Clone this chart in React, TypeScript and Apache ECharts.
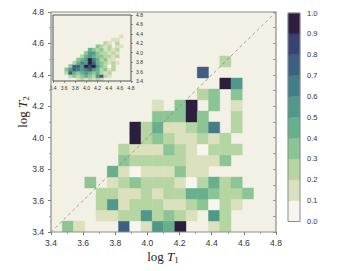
import React, { useEffect, useRef } from 'react';
import * as echarts from 'echarts';

const _ = null;
const AXIS_MIN = 3.4;
const AXIS_MAX = 4.8;
const TICK_STEP = 0.2;
const BIN = 0.07;

const levelEdges = [0, 0.1, 0.2, 0.3, 0.4, 0.5, 0.6, 0.7, 0.8, 0.9, 1.0];
const levelColors = [
  '#f7f5ee', '#dbe0bd', '#b5d6a2', '#8cc595', '#68b08d',
  '#509889', '#437d88', '#3d5f84', '#3a4273', '#2d1e3e',
];

// main 2D histogram, rows from bottom (log T2 = 3.40..) ; columns log T1 bins of 0.07 from 3.40
const mainRows = [
  [_, .35, .15, _, _, _, .75, .05, .15, .55, .45, .95, _, _, .15, .25, _, _, _, _],
  [_, _, _, _, .15, .15, .25, .25, .55, .25, .35, .25, .15, _, .55, .25, _, _, _, _],
  [_, _, _, _, .25, .55, .15, .25, .25, .25, .15, .15, .25, .35, .05, .25, .15, _, _, _],
  [_, _, _, _, .25, .25, .15, .15, .25, .15, .25, .25, .45, .45, .35, .25, .25, .35, _, _],
  [_, _, _, .35, _, .15, .25, .35, .25, .25, .25, .15, .05, .25, .45, .25, .35, _, _, _],
  [_, _, _, _, _, .45, .15, .05, .15, .15, .15, .35, .15, .15, _, _, _, _, _, _],
  [_, _, _, _, _, _, .35, .25, .25, .25, .25, .25, .15, .15, .15, .35, _, _, _, _],
  [_, _, _, _, _, _, .25, .15, .15, .15, .35, .25, .15, .05, .25, .25, .25, _, _, _],
  [_, _, _, _, _, _, _, .95, .25, .35, .25, .15, .15, .25, .15, .25, _, _, _, _],
  [_, _, _, _, _, _, _, .95, .25, .45, .15, .15, .25, .35, .65, _, .25, _, _, _],
  [_, _, _, _, _, _, _, _, _, .35, .35, .35, .95, .35, _, _, .25, _, _, _],
  [_, _, _, _, _, _, _, _, _, .15, _, .35, .95, _, .35, _, .15, _, _, _],
  [_, _, _, _, _, _, _, _, _, _, _, _, _, .25, .35, _, .35, _, _, _],
  [_, _, _, _, _, _, _, _, _, _, _, _, _, _, _, .95, .55, _, _, _],
  [_, _, _, _, _, _, _, _, _, _, _, _, _, .75, _, _, _, _, _, _],
  [_, _, _, _, _, _, _, _, _, _, _, _, _, _, _, .25, _, _, _, _],
];

// inset histogram
const insetRows = [
  [_, _, _, _, _, _, .15, .25, .15, .25, .15, .25, .15, _, _, _, _, _, _, _],
  [_, _, _, _, .25, .35, .25, .35, .45, .35, .25, .55, .75, .25, .15, _, _, _, _, _],
  [_, _, _, .25, .75, .45, .35, .45, .55, .45, .35, .45, .25, .15, .25, _, _, _, _, _],
  [_, _, _, .35, .55, .75, .65, .55, .65, .75, .55, .45, .25, .35, .15, .25, _, _, _, _],
  [_, _, _, _, .35, .75, .75, .55, .95, .85, .95, .55, .35, .25, .05, .25, _, _, _, _],
  [_, _, _, _, _, .25, .45, .65, .55, .95, .75, .45, .35, .25, .15, .25, .15, _, _, _],
  [_, _, _, _, _, _, .35, .45, .55, .95, .65, .45, .25, .35, .15, .15, _, _, _, _],
  [_, _, _, _, _, _, _, .25, .45, .55, .45, .35, .35, .25, .25, .15, .25, _, _, _],
  [_, _, _, _, _, _, _, _, .35, .55, .55, .35, .25, .25, .15, .25, .15, _, _, _],
  [_, _, _, _, _, _, _, _, _, .45, .35, .25, .35, .15, .25, .15, .25, _, _, _],
  [_, _, _, _, _, _, _, _, _, _, _, .35, .25, .15, .25, _, .15, .15, _, _],
  [_, _, _, _, _, _, _, _, _, _, _, _, _, .25, .15, _, .25, _, _, _],
  [_, _, _, _, _, _, _, _, _, _, _, _, _, _, _, .15, .15, _, _, _],
  [_, _, _, _, _, _, _, _, _, _, _, _, _, _, _, _, _, .15, _, _],
];

const diagonal = [[AXIS_MIN, AXIS_MIN], [AXIS_MAX, AXIS_MAX]];

function toCells(rows: (number | null)[][]) {
  const out: number[][] = [];
  rows.forEach((row, j) =>
    row.forEach((v, i) => {
      if (v !== null) out.push([AXIS_MIN + i * BIN, AXIS_MIN + j * BIN, v]);
    })
  );
  return out;
}

const MAIN = { left: 51, top: 12, width: 225, height: 220 };
const INSET = { left: 53, top: 15, width: 78, height: 66 };
const CBAR = { left: 288, top: 13, width: 12, height: 208.5 };
const BG = '#f3f0e5';
const SANS = 'Liberation Sans, Arial, sans-serif';
const SERIF = 'Liberation Serif, DejaVu Serif, serif';

const fmt = (v: number) => v.toFixed(1);

export default function App() {
  const ref = useRef<HTMLDivElement>(null);
  useEffect(() => {
    if (!ref.current) return;
    const chart = echarts.init(ref.current, undefined, { renderer: 'svg' });

    const cellRender = (params: any, api: any) => {
      const x0 = api.value(0);
      const y0 = api.value(1);
      const a = api.coord([x0, y0]);
      const b = api.coord([x0 + BIN, y0 + BIN]);
      const c = api.visual('color');
      return {
        type: 'rect',
        shape: { x: a[0], y: b[1], width: b[0] - a[0], height: a[1] - b[1] },
        style: { fill: c, stroke: c, lineWidth: 0.4 },
      };
    };
    const barRender = (params: any, api: any) => {
      const a = api.coord([0, api.value(1)]);
      const b = api.coord([1, api.value(3)]);
      const c = api.visual('color');
      return {
        type: 'rect',
        shape: { x: a[0], y: b[1], width: b[0] - a[0], height: a[1] - b[1] },
        style: { fill: c, stroke: c, lineWidth: 0.4 },
      };
    };

    const cbarData = levelColors.map((_c, k) => [0, levelEdges[k], (levelEdges[k] + levelEdges[k + 1]) / 2, levelEdges[k + 1]]);
    const pieces = levelColors.map((c, k) =>
      k === levelColors.length - 1
        ? { gte: levelEdges[k], lte: levelEdges[k + 1], color: c }
        : { gte: levelEdges[k], lt: levelEdges[k + 1], color: c }
    );

    const mainTick = { show: true, inside: false, length: 3, lineStyle: { color: '#555', width: 0.8 } };
    const mainMinor = { show: true, splitNumber: 2, length: 2, lineStyle: { color: '#777', width: 0.6 } };
    const mainLabel = { fontSize: 8.5, fontFamily: SANS, color: '#333', formatter: fmt, showMinLabel: true, showMaxLabel: true };

    chart.setOption({
      animation: false,
      grid: [
        { ...MAIN, show: true, backgroundColor: BG, borderWidth: 0 },
        { ...INSET, show: true, backgroundColor: BG, borderWidth: 0 },
        { ...CBAR, show: false },
      ],
      xAxis: [
        {
          gridIndex: 0, type: 'value', min: AXIS_MIN, max: AXIS_MAX, interval: TICK_STEP,
          axisLine: { show: false }, axisTick: mainTick, minorTick: mainMinor,
          axisLabel: { ...mainLabel, margin: 6 }, splitLine: { show: false },
        },
        {
          gridIndex: 1, type: 'value', min: AXIS_MIN, max: AXIS_MAX, interval: TICK_STEP,
          axisLine: { show: false }, axisTick: { show: true, length: 2, lineStyle: { color: '#555', width: 0.6 } },
          axisLabel: { fontSize: 5, fontFamily: SANS, color: '#333', formatter: fmt, margin: 4, showMinLabel: true, showMaxLabel: true },
          splitLine: { show: false },
        },
        { gridIndex: 2, type: 'value', min: 0, max: 1, show: false },
      ],
      yAxis: [
        {
          gridIndex: 0, type: 'value', min: AXIS_MIN, max: AXIS_MAX, interval: TICK_STEP,
          axisLine: { show: false }, axisTick: mainTick, minorTick: mainMinor,
          axisLabel: { ...mainLabel, margin: 7 }, splitLine: { show: false },
        },
        {
          gridIndex: 0, type: 'value', position: 'right', min: AXIS_MIN, max: AXIS_MAX, interval: TICK_STEP,
          axisLine: { show: false },
          axisTick: { show: true, inside: true, length: 3, lineStyle: { color: '#777', width: 0.7 } },
          minorTick: { show: true, splitNumber: 2, length: 3, lineStyle: { color: '#777', width: 0.7 } },
          axisLabel: { show: false }, splitLine: { show: false },
        },
        {
          gridIndex: 1, type: 'value', position: 'right', min: AXIS_MIN, max: AXIS_MAX, interval: TICK_STEP,
          axisLine: { show: false }, axisTick: { show: true, length: 2, lineStyle: { color: '#555', width: 0.6 } },
          axisLabel: { fontSize: 5, fontFamily: SANS, color: '#333', formatter: fmt, margin: 5, showMinLabel: true, showMaxLabel: true },
          splitLine: { show: false },
        },
        {
          gridIndex: 2, type: 'value', position: 'right', min: 0, max: 1, interval: 0.1,
          axisLine: { show: false }, axisTick: { show: true, length: 3, lineStyle: { color: '#555', width: 0.8 } },
          axisLabel: { fontSize: 7.5, fontFamily: SANS, color: '#333', formatter: fmt, margin: 7, showMinLabel: true, showMaxLabel: true },
          splitLine: { show: false },
        },
      ],
      visualMap: {
        type: 'piecewise', show: false, dimension: 2, seriesIndex: [0, 1, 2], pieces,
      },
      series: [
        { type: 'custom', xAxisIndex: 0, yAxisIndex: 0, renderItem: cellRender, data: toCells(mainRows), encode: { x: 0, y: 1 }, clip: true, silent: true },
        { type: 'custom', xAxisIndex: 1, yAxisIndex: 2, renderItem: cellRender, data: toCells(insetRows), encode: { x: 0, y: 1 }, clip: true, silent: true },
        { type: 'custom', xAxisIndex: 2, yAxisIndex: 3, renderItem: barRender, data: cbarData, encode: { x: 0, y: 1 }, silent: true },
        {
          type: 'line', xAxisIndex: 0, yAxisIndex: 0, data: diagonal, symbol: 'none', silent: true, z: 5,
          lineStyle: { color: '#8a8a8a', width: 0.8, type: [3, 3] },
        },
      ],
      graphic: [
        { type: 'rect', z: 100, silent: true, shape: { x: MAIN.left, y: MAIN.top, width: MAIN.width, height: MAIN.height }, style: { fill: 'none', stroke: '#8c8c8c', lineWidth: 1.2 } },
        { type: 'rect', z: 100, silent: true, shape: { x: INSET.left, y: INSET.top, width: INSET.width, height: INSET.height }, style: { fill: 'none', stroke: '#555', lineWidth: 1 } },
        { type: 'rect', z: 100, silent: true, shape: { x: CBAR.left, y: CBAR.top, width: CBAR.width, height: CBAR.height }, style: { fill: 'none', stroke: '#8c8c8c', lineWidth: 1 } },
        {
          type: 'text', z: 100, silent: true, x: 163, y: 256,
          style: {
            text: '{a|log }{b|T}{c|1}', align: 'center', verticalAlign: 'middle',
            rich: {
              a: { fontFamily: SERIF, fontSize: 13, fill: '#222', lineHeight: 16 },
              b: { fontFamily: SERIF, fontStyle: 'italic', fontSize: 13, fill: '#222', lineHeight: 16 },
              c: { fontFamily: SERIF, fontSize: 9, fill: '#222', lineHeight: 9, verticalAlign: 'bottom' },
            },
          },
        },
        {
          type: 'text', z: 100, silent: true, x: 22, y: 112, rotation: Math.PI / 2,
          style: {
            text: '{a|log }{b|T}{c|2}', align: 'center', verticalAlign: 'middle',
            rich: {
              a: { fontFamily: SERIF, fontSize: 13, fill: '#222', lineHeight: 16 },
              b: { fontFamily: SERIF, fontStyle: 'italic', fontSize: 13, fill: '#222', lineHeight: 16 },
              c: { fontFamily: SERIF, fontSize: 9, fill: '#222', lineHeight: 9, verticalAlign: 'bottom' },
            },
          },
        },
      ],
    });
    return () => chart.dispose();
  }, []);

  return (
    <div
      ref={ref}
      style={{ position: 'fixed', left: 0, top: 0, width: 341, height: 271, background: '#ffffff' }}
    />
  );
}
